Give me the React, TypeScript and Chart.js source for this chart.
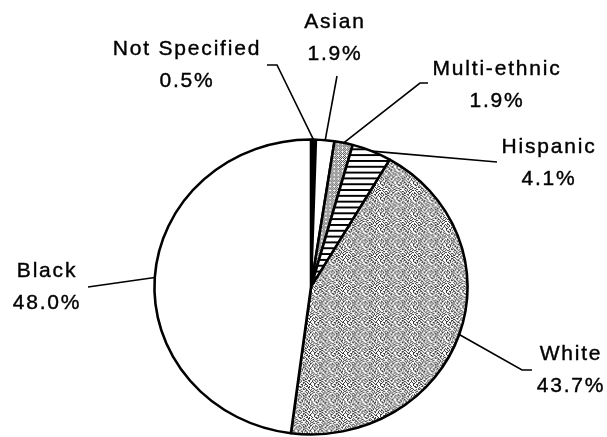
import React, { useEffect, useRef } from 'react';
import { Chart, registerables } from 'chart.js';

Chart.register(...registerables);

// ---- data ----
const categories = ['Not Specified', 'Asian', 'Multi-ethnic', 'Hispanic', 'White', 'Black'];
const values = [0.5, 1.9, 1.9, 4.1, 43.7, 48.0];
const valueLabels = ['0.5%', '1.9%', '1.9%', '4.1%', '43.7%', '48.0%'];

// ---- layout (label text anchor + leader elbow) ----
const labelLayout: { x: number; y: number; elbow: [number, number]; end?: [number, number] }[] = [
  { x: 187, y: 55, elbow: [277, 65], end: [267, 65] },
  { x: 335, y: 28, elbow: [337, 76] },
  { x: 497, y: 75, elbow: [420, 83], end: [428, 83] },
  { x: 549, y: 153, elbow: [497, 162] },
  { x: 571, y: 360, elbow: [522, 370], end: [532, 370] },
  { x: 47, y: 277, elbow: [88, 287] },
];
const LINE_GAP = 32;
const SX = 1.03;
const SY = 0.97;

const speckleBitmap = [
  '0110010010010100',
  '1001000101001001',
  '0100101000110001',
  '0110011000100110',
  '1001000100100010',
  '0011010010011010',
  '1000110100001100',
  '0100100011000001',
  '1010010100100101',
  '0011001001011000',
  '0100100110000110',
  '0010101001101000',
  '1001010010000101',
  '0101001100010010',
  '0110001001011001',
  '1000110010100101',
];
const fineBitmap = ['1010', '0101', '1010', '0001'];

function bitmapPattern(ctx: CanvasRenderingContext2D, rows: string[], dark: string) {
  const c = document.createElement('canvas');
  c.width = rows[0].length;
  c.height = rows.length;
  const g = c.getContext('2d')!;
  g.fillStyle = '#fff';
  g.fillRect(0, 0, c.width, c.height);
  g.fillStyle = dark;
  rows.forEach((r, yy) => {
    for (let xx = 0; xx < r.length; xx++) if (r[xx] === '1') g.fillRect(xx, yy, 1, 1);
  });
  return ctx.createPattern(c, 'repeat')!;
}

function stripePattern(ctx: CanvasRenderingContext2D) {
  const c = document.createElement('canvas');
  c.width = 6;
  c.height = 6;
  const g = c.getContext('2d')!;
  g.fillStyle = '#fff';
  g.fillRect(0, 0, 6, 6);
  g.fillStyle = '#000';
  g.fillRect(0, 0, 6, 2);
  return ctx.createPattern(c, 'repeat')!;
}

const ellipsePlugin = {
  id: 'ellipse',
  beforeDatasetsDraw(chart: any) {
    const arc = chart.getDatasetMeta(0).data[0];
    const { x, y } = arc;
    const ctx = chart.ctx;
    ctx.save();
    ctx.translate(x, y);
    ctx.scale(SX, SY);
    ctx.translate(-x, -y);
  },
  afterDatasetsDraw(chart: any) {
    chart.ctx.restore();
  },
};

const labelPlugin = {
  id: 'pieLabels',
  afterDraw(chart: any) {
    const ctx: CanvasRenderingContext2D = chart.ctx;
    const meta = chart.getDatasetMeta(0);
    ctx.save();
    meta.data.forEach((arc: any, i: number) => {
      const { x, y, startAngle, endAngle, outerRadius } = arc.getProps(
        ['x', 'y', 'startAngle', 'endAngle', 'outerRadius'],
        true
      );
      const mid = (startAngle + endAngle) / 2;
      const px = x + SX * outerRadius * Math.cos(mid);
      const py = y + SY * outerRadius * Math.sin(mid);
      const L = labelLayout[i];
      ctx.strokeStyle = '#000';
      ctx.lineWidth = 1.6;
      ctx.beginPath();
      ctx.moveTo(px, py);
      ctx.lineTo(L.elbow[0], L.elbow[1]);
      if (L.end) ctx.lineTo(L.end[0], L.end[1]);
      ctx.stroke();
      ctx.fillStyle = '#000';
      ctx.font = '21px "Liberation Sans", Arial, sans-serif';
      (ctx as any).letterSpacing = '1.8px';
      ctx.textAlign = 'center';
      ctx.textBaseline = 'alphabetic';
      ctx.lineWidth = 0.4;
      ctx.fillText(categories[i], L.x, L.y);
      ctx.strokeText(categories[i], L.x, L.y);
      ctx.fillText(valueLabels[i], L.x, L.y + LINE_GAP);
      ctx.strokeText(valueLabels[i], L.x, L.y + LINE_GAP);
    });
    ctx.restore();
  },
};

export default function App() {
  const ref = useRef<HTMLCanvasElement>(null);
  useEffect(() => {
    const canvas = ref.current!;
    const ctx = canvas.getContext('2d')!;
    const fills = [
      '#000000',
      '#ffffff',
      bitmapPattern(ctx, fineBitmap, '#444'),
      stripePattern(ctx),
      bitmapPattern(ctx, speckleBitmap, '#333'),
      '#ffffff',
    ];
    const chart = new Chart(canvas, {
      type: 'pie',
      data: {
        labels: categories,
        datasets: [
          {
            data: values,
            backgroundColor: fills as any,
            borderColor: '#000',
            borderWidth: 2.5,
            radius: 152,
          } as any,
        ],
      },
      options: {
        responsive: false,
        animation: false,
        events: [],
        layout: { padding: { top: 137, left: 15, right: 0, bottom: 0 } },
        plugins: { legend: { display: false }, tooltip: { enabled: false } },
      },
      plugins: [ellipsePlugin, labelPlugin],
    });
    return () => chart.destroy();
  }, []);
  return (
    <div style={{ position: 'absolute', left: 0, top: 0, width: 607, height: 437, background: '#fff' }}>
      <canvas ref={ref} width={607} height={437} />
    </div>
  );
}
